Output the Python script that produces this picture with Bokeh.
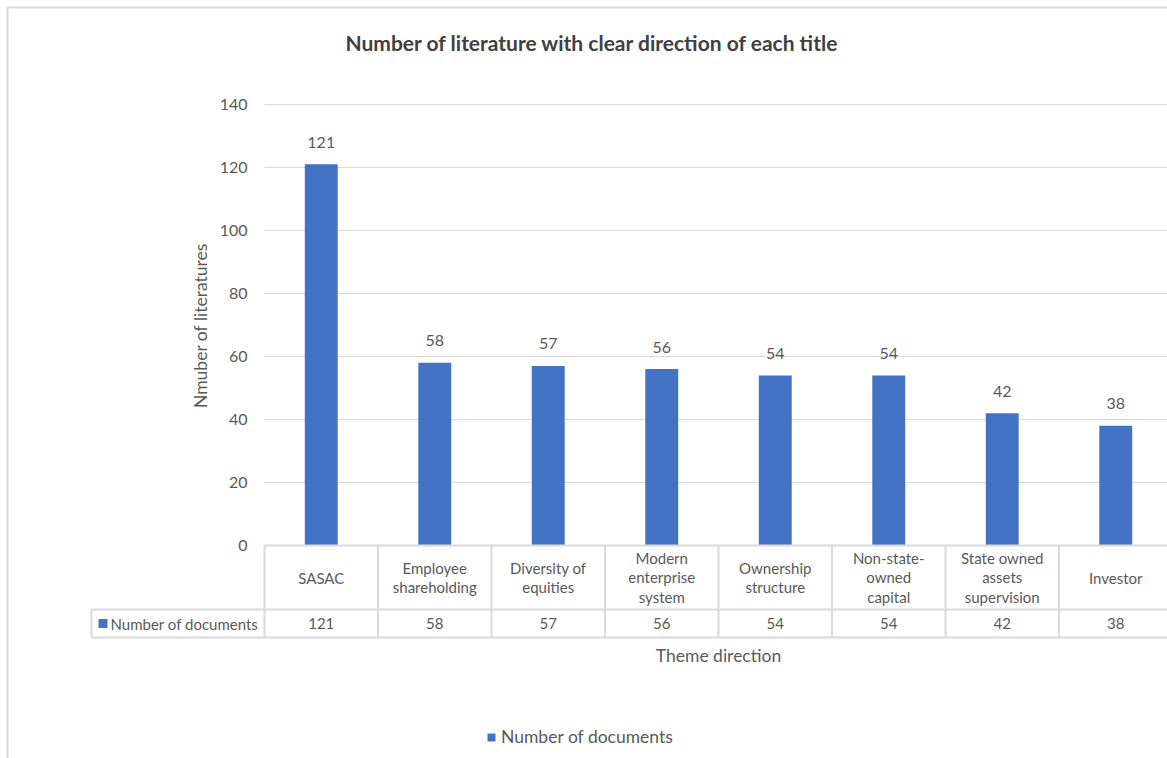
from bokeh.plotting import figure
from bokeh.models import Range1d, Legend, LegendItem
from bokeh.core.properties import value
from bokeh.embed import file_html
from bokeh.resources import INLINE

# ---------------- data ----------------
categories = ["SASAC", "Employee shareholding", "Diversity of equities",
              "Modern enterprise system", "Ownership structure",
              "Non-state-owned capital", "State owned assets supervision", "Investor"]
category_labels = ["SASAC", "Employee\nshareholding", "Diversity of\nequities",
                   "Modern\nenterprise\nsystem", "Ownership\nstructure",
                   "Non-state-\nowned\ncapital", "State owned\nassets\nsupervision", "Investor"]
counts = [121, 58, 57, 56, 54, 54, 42, 38]
y_ticks = [0, 20, 40, 60, 80, 100, 120, 140]
series_name = "Number of documents"
title_text = "Number of literature with clear direction of each title"
y_title = "Nmuber of literatures"
x_title = "Theme direction"

# ---------------- layout helpers (pixel -> data) ----------------
W, H = 1167, 758
X0, CW = 264.0, 113.5      # left edge of first category, category width (px)
Y0, YS = 545.0, 3.15       # pixel of value 0, pixels per unit

def xd(px):
    return (px - X0) / CW

def yd(py):
    return (Y0 - py) / YS

FONT = value("Lato")
GRID = "#d9d9d9"
TXT = "#595959"
BAR = "#4472C4"

p = figure(width=W, height=H, output_backend="svg", toolbar_location=None,
           x_range=Range1d(xd(0), xd(W)), y_range=Range1d(yd(H), yd(0)),
           x_axis_type=None, y_axis_type=None, min_border=0)
p.outline_line_color = None
p.xgrid.visible = False
p.ygrid.visible = False
p.background_fill_color = "white"

n = len(categories)
centers = [i + 0.5 for i in range(n)]

# outer chart border
p.segment(x0=[xd(7), xd(7)], y0=[yd(7), yd(7)], x1=[xd(7), xd(W + 5)], y1=[yd(H + 5), yd(7)],
          line_color=GRID, line_width=2)

# gridlines
p.segment(x0=[0] * (len(y_ticks) - 1), x1=[n] * (len(y_ticks) - 1),
          y0=y_ticks[1:], y1=y_ticks[1:], line_color=GRID, line_width=1)

# bars
bars = p.vbar(x=centers, top=counts, width=0.29, fill_color=BAR, line_color=None)

# data labels
p.text(x=centers, y=counts, text=[str(c) for c in counts], y_offset=-22,
       text_align="center", text_baseline="middle", text_font=FONT,
       text_font_size="16px", text_color=TXT)

# y tick labels
p.text(x=[xd(247)] * len(y_ticks), y=y_ticks, text=[str(t) for t in y_ticks],
       text_align="right", text_baseline="middle", text_font=FONT,
       text_font_size="16px", text_color=TXT)

# y axis title
p.text(x=[xd(200)], y=[(y_ticks[0] + y_ticks[-1]) / 2 - (325 - (Y0 + 104) / 2) / YS],
       text=[y_title], angle=1.5708, text_align="center", text_baseline="middle",
       text_font=FONT, text_font_size="17.5px", text_color=TXT)

# chart title
p.text(x=[xd(592)], y=[yd(42)], text=[title_text], text_align="center",
       text_baseline="middle", text_font=FONT, text_font_size="21px",
       text_font_style="bold", text_color="#404040")

# ---------------- data table ----------------
row1_bot = yd(609)
row2_bot = yd(637)
# horizontal borders
p.segment(x0=[0, xd(91), xd(91)], x1=[n + 1, n + 1, n + 1],
          y0=[0, row1_bot, row2_bot], y1=[0, row1_bot, row2_bot],
          line_color=GRID, line_width=2)
# vertical borders
p.segment(x0=list(range(n + 1)), x1=list(range(n + 1)),
          y0=[0] * (n + 1), y1=[row2_bot] * (n + 1), line_color=GRID, line_width=2)
p.segment(x0=[xd(91)], x1=[xd(91)], y0=[row1_bot], y1=[row2_bot],
          line_color=GRID, line_width=2)

# header labels
p.text(x=centers, y=[yd(577)] * n, text=category_labels, text_align="center",
       text_baseline="middle", text_font=FONT, text_font_size="15px",
       text_line_height=1.1, text_color=TXT)
# value row
p.text(x=centers, y=[yd(623)] * n, text=[str(c) for c in counts], text_align="center",
       text_baseline="middle", text_font=FONT, text_font_size="15px", text_color=TXT)
# row header with legend key
p.scatter(x=[xd(102.5)], y=[yd(623)], marker="square", size=9, fill_color=BAR,
          line_color=None)
p.text(x=[xd(110)], y=[yd(623)], text=[series_name], text_align="left",
       text_baseline="middle", text_font=FONT, text_font_size="15px", text_color=TXT)

# x axis title
p.text(x=[n / 2], y=[yd(655)], text=[x_title], text_align="center",
       text_baseline="middle", text_font=FONT, text_font_size="17.5px", text_color=TXT)

# legend
legend = Legend(items=[LegendItem(label=series_name, renderers=[bars])],
                location=(486, 11), orientation="horizontal",
                glyph_width=10, glyph_height=10, label_standoff=5,
                padding=0, margin=0, spacing=0,
                label_text_font="Lato", label_text_font_size="17.5px",
                label_text_color=TXT, border_line_color=None,
                background_fill_alpha=0)
p.add_layout(legend)

open("out.html", "w").write(file_html(p, INLINE))
